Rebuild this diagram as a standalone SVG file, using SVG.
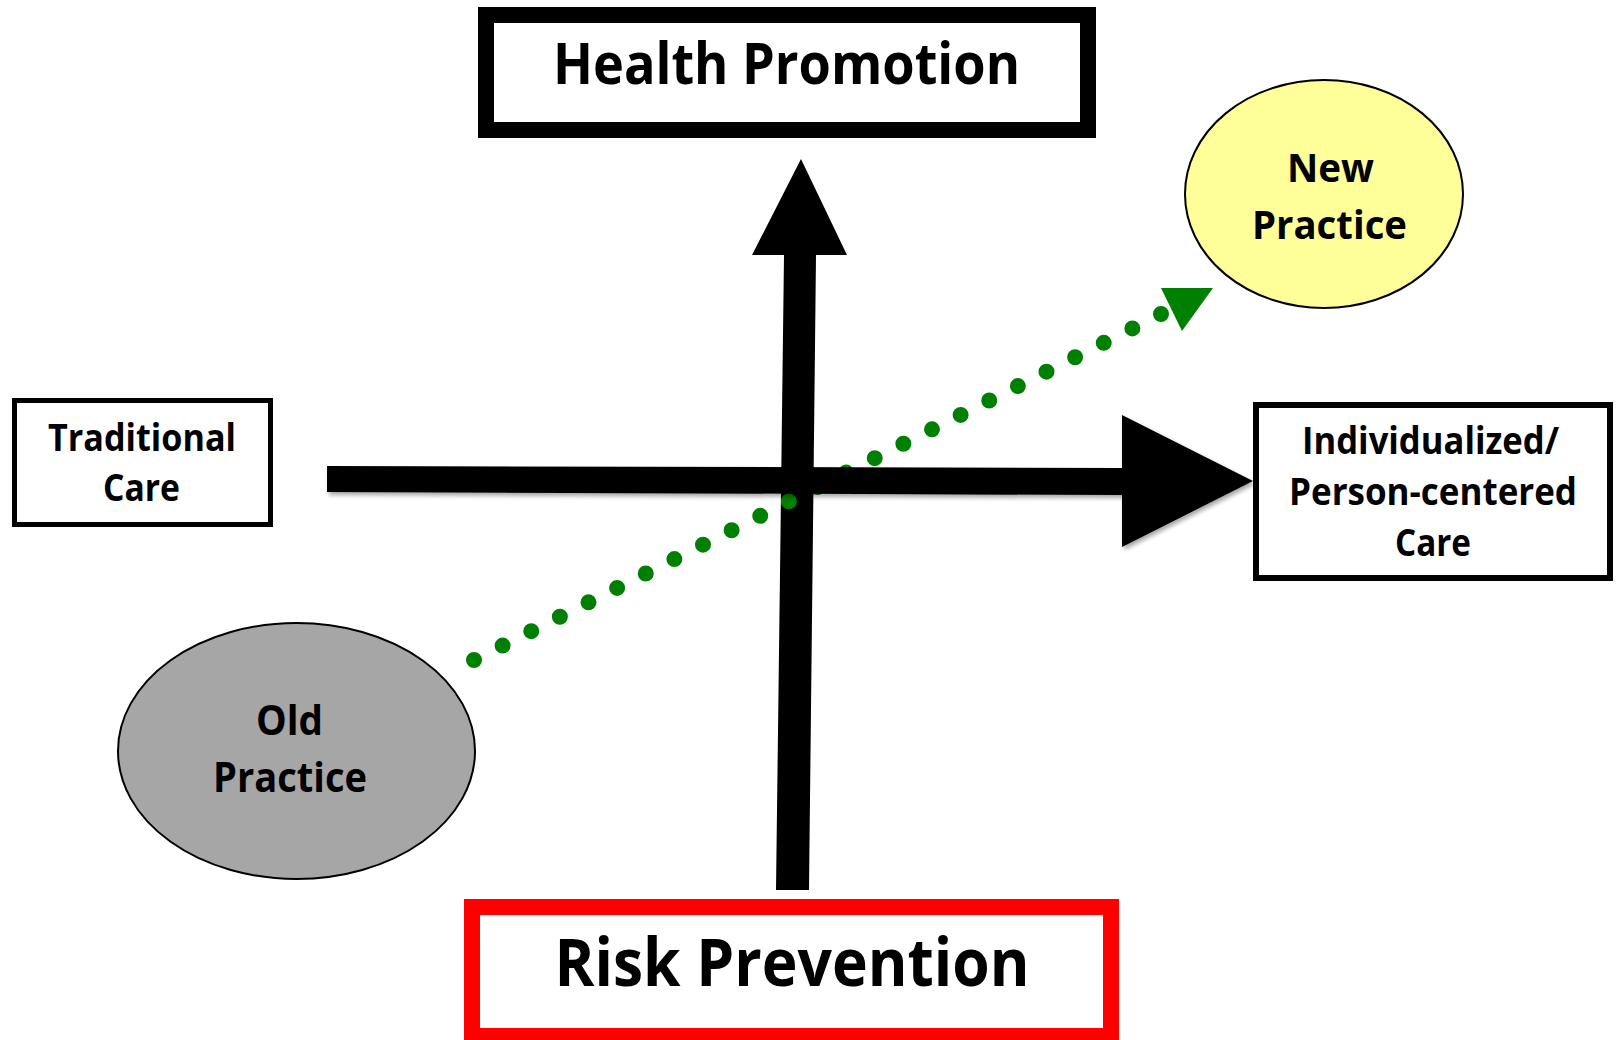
<svg xmlns="http://www.w3.org/2000/svg" width="1616" height="1040" viewBox="0 0 1616 1040">
  <defs>
    <filter id="shadow" x="-5%" y="-20%" width="110%" height="150%">
      <feDropShadow dx="2" dy="3" stdDeviation="2" flood-color="#000" flood-opacity="0.35"/>
    </filter>
  </defs>
  <style>
    .lbl { font-family: "Open Sans", "Noto Sans", "Liberation Sans", sans-serif; font-weight: bold; fill: #000; text-anchor: middle; }
    .box { fill: #fff; stroke: #000; }
    .arrow { fill: #000; }
    .dots { fill: none; stroke: #008000; stroke-width: 16; stroke-linecap: round; stroke-dasharray: 0 32.05; }
  </style>
  <rect width="1616" height="1040" fill="#fff"/>

  <g id="connectors">
    <polygon id="axis-vertical" class="arrow" points="801,159 847,255 816,255 809,890 776,890 784,255 752,255"/>
    <g id="dotted-arrow">
      <line class="dots" x1="474" y1="660" x2="1161" y2="314"/>
      <polygon points="1161,288 1213,288 1182,331" fill="#008000"/>
    </g>
    <polygon id="axis-horizontal" class="arrow" filter="url(#shadow)" points="327,466 1122,468 1122,415 1253,481 1122,547 1122,495 327,492"/>
  </g>

  <g id="node-health">
    <rect class="box" x="486" y="15" width="602" height="115" stroke-width="16"/>
    <text class="lbl" x="786.5" y="84" font-size="58" textLength="467" lengthAdjust="spacingAndGlyphs">Health Promotion</text>
  </g>

  <g id="node-risk">
    <rect class="box" x="472" y="907" width="639" height="129" stroke="#ff0000" stroke-width="16" style="stroke:#ff0000"/>
    <text class="lbl" x="792" y="986" font-size="67" textLength="475" lengthAdjust="spacingAndGlyphs">Risk Prevention</text>
  </g>

  <g id="node-traditional">
    <rect class="box" x="14.5" y="400.5" width="256" height="124" stroke-width="5"/>
    <text class="lbl" x="142" y="451" font-size="37" textLength="188" lengthAdjust="spacingAndGlyphs">Traditional</text>
    <text class="lbl" x="141.5" y="501" font-size="37" textLength="77" lengthAdjust="spacingAndGlyphs">Care</text>
  </g>

  <g id="node-individualized">
    <rect class="box" x="1256" y="405" width="354" height="173" stroke-width="6"/>
    <text class="lbl" x="1430.5" y="454" font-size="37" textLength="257" lengthAdjust="spacingAndGlyphs">Individualized/</text>
    <text class="lbl" x="1433" y="505" font-size="37" textLength="288" lengthAdjust="spacingAndGlyphs">Person-centered</text>
    <text class="lbl" x="1433" y="556" font-size="37" textLength="76" lengthAdjust="spacingAndGlyphs">Care</text>
  </g>

  <g id="node-new">
    <ellipse cx="1324" cy="194" rx="139" ry="114" fill="#ffff99" stroke="#000" stroke-width="2"/>
    <text class="lbl" x="1330.5" y="182" font-size="40" textLength="87" lengthAdjust="spacingAndGlyphs">New</text>
    <text class="lbl" x="1329.5" y="239" font-size="40" textLength="155" lengthAdjust="spacingAndGlyphs">Practice</text>
  </g>

  <g id="node-old">
    <ellipse cx="296.5" cy="751" rx="178.5" ry="128" fill="#a6a6a6" stroke="#000" stroke-width="2"/>
    <text class="lbl" x="289.5" y="735" font-size="41" textLength="67" lengthAdjust="spacingAndGlyphs">Old</text>
    <text class="lbl" x="290" y="792" font-size="41" textLength="154" lengthAdjust="spacingAndGlyphs">Practice</text>
  </g>
</svg>
